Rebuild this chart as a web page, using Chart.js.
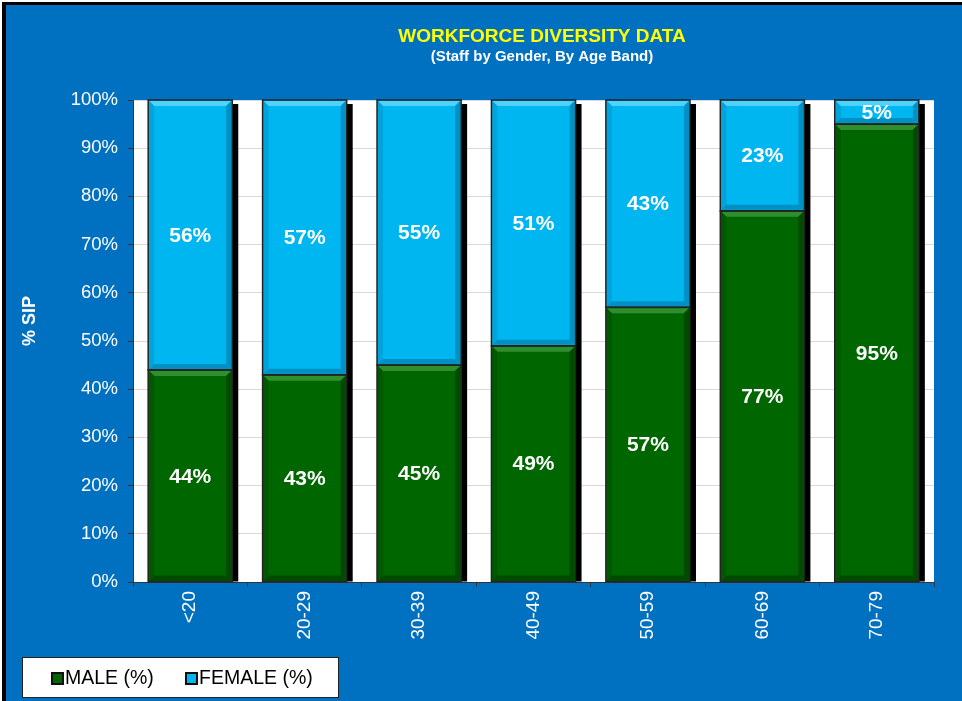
<!DOCTYPE html>
<html><head><meta charset="utf-8">
<script src="https://cdn.jsdelivr.net/npm/chart.js@4"></script>
<style>html,body{margin:0;padding:0;background:#fff}#wrap{width:962px;height:701px}</style>
</head><body><div id="wrap"><canvas id="c" width="962" height="701"></canvas></div>
<script>
const categories = ['<20','20-29','30-39','40-49','50-59','60-69','70-79'];
const maleValues = [44,43,45,49,57,77,95];
const femaleValues = [56,57,55,51,43,23,5];
const yTicks = [0,10,20,30,40,50,60,70,80,90,100];
const seriesNames = ['MALE (%)','FEMALE (%)'];
const yTitle = '% SIP';
const chartTitle = 'WORKFORCE DIVERSITY DATA';
const chartSubtitle = '(Staff by Gender, By Age Band)';

const FONT = 'Arial, "Liberation Sans", sans-serif';
const COL = {
  male:{fill:'#006600', light:'#2f8f2f', dark:'#004a00'},
  female:{fill:'#00B6F0', light:'#4fd2ff', dark:'#0090c4'}
};

const bgPlugin = {
  id:'bg',
  beforeDraw(chart){
    const c = chart.ctx, a = chart.chartArea;
    c.save();
    c.fillStyle='#ffffff'; c.fillRect(0,0,chart.width,chart.height);
    c.fillStyle='#000000'; c.fillRect(2,2,chart.width,chart.height);
    c.fillStyle='#0070C0'; c.fillRect(6,5,chart.width,chart.height);
    c.fillStyle='#ffffff'; c.fillRect(a.left,a.top,a.right-a.left,a.bottom-a.top);
    c.textAlign='center'; c.textBaseline='middle';
    c.fillStyle='#FFFF00'; c.font='bold 19px '+FONT;
    c.fillText(chartTitle, 542, 37);
    c.fillStyle='#ffffff'; c.font='bold 15px '+FONT;
    c.fillText(chartSubtitle, 542, 57);
    c.restore();
  },
  beforeDatasetsDraw(chart){
    const c = chart.ctx;
    c.save(); c.fillStyle='#000';
    const m0 = chart.getDatasetMeta(0), m1 = chart.getDatasetMeta(1);
    m0.data.forEach((b,i)=>{
      const t = m1.data[i];
      const right = b.x + b.width/2;
      const top = Math.min(t.y, b.y);
      c.fillRect(right, top+4, 6, b.base - top - 4);
    });
    c.restore();
  },
  afterDatasetsDraw(chart){
    const c = chart.ctx;
    const keys = ['male','female'];
    chart.data.datasets.forEach((ds,di)=>{
      const meta = chart.getDatasetMeta(di);
      const col = COL[keys[di]];
      meta.data.forEach((b,i)=>{
        const l = b.x - b.width/2, r = b.x + b.width/2;
        const t = Math.min(b.y,b.base), bt = Math.max(b.y,b.base);
        const bv = Math.min(6,(bt-t)/3);
        c.save();
        c.fillStyle = col.light;
        c.beginPath(); c.moveTo(l+1,t+1); c.lineTo(r-1,t+1); c.lineTo(r-bv,t+bv); c.lineTo(l+bv,t+bv); c.closePath(); c.fill();
        c.fillStyle = col.dark;
        c.beginPath(); c.moveTo(r-1,t+1); c.lineTo(r-1,bt-1); c.lineTo(r-bv,bt-bv); c.lineTo(r-bv,t+bv); c.closePath(); c.fill();
        c.beginPath(); c.moveTo(l+1,bt-1); c.lineTo(r-1,bt-1); c.lineTo(r-bv,bt-bv); c.lineTo(l+bv,bt-bv); c.closePath(); c.fill();
        c.globalAlpha=0.5;
        c.beginPath(); c.moveTo(l+1,t+1); c.lineTo(l+1,bt-1); c.lineTo(l+bv,bt-bv); c.lineTo(l+bv,t+bv); c.closePath(); c.fill();
        c.globalAlpha=1;
        c.strokeStyle='#222'; c.lineWidth=1.5;
        c.strokeRect(l,t,r-l,bt-t);
        c.fillStyle='#ffffff';
        c.font='bold 21px '+FONT;
        c.textAlign='center'; c.textBaseline='middle';
        c.fillText(ds.data[i]+'%', b.x, (t+bt)/2+1);
        c.restore();
      });
    });
  },
  afterDraw(chart){
    const c = chart.ctx;
    c.save();
    c.translate(30,321); c.rotate(-Math.PI/2);
    c.fillStyle='#ffffff'; c.font='bold 18px '+FONT;
    c.textAlign='center'; c.textBaseline='middle';
    c.fillText(yTitle,0,0);
    c.restore();
    c.save();
    c.fillStyle='#ffffff'; c.fillRect(22,657,317,41);
    c.strokeStyle='#222'; c.lineWidth=1; c.strokeRect(22.5,657.5,316,40);
    const items = [{x:51,col:COL.male},{x:185,col:COL.female}];
    c.font='19.5px '+FONT; c.textBaseline='middle'; c.textAlign='left';
    items.forEach((it,i)=>{
      c.fillStyle='#111'; c.fillRect(it.x,672,13,13);
      c.fillStyle=it.col.fill; c.fillRect(it.x+2,674,9,9);
      c.fillStyle='#000'; c.fillText(seriesNames[i], it.x+14, 679);
    });
    c.restore();
  }
};

new Chart(document.getElementById('c'),{
  type:'bar',
  data:{
    labels:categories,
    datasets:[
      {label:seriesNames[0], data:maleValues, backgroundColor:COL.male.fill, borderWidth:0},
      {label:seriesNames[1], data:femaleValues, backgroundColor:COL.female.fill, borderWidth:0}
    ]
  },
  options:{
    responsive:false, animation:false,
    layout:{padding:{left:5,right:28,top:100,bottom:0}},
    datasets:{bar:{categoryPercentage:1, barPercentage:0.735}},
    plugins:{
      legend:{display:false},
      tooltip:{enabled:false},
      title:{display:false},
      subtitle:{display:false}
    },
    scales:{
      x:{stacked:true, offset:true,
        grid:{display:true, drawOnChartArea:false, drawTicks:true, tickLength:5, color:'#333', offset:true},
        border:{display:true, color:'#333', width:1},
        ticks:{color:'#ffffff', font:{family:FONT, size:19}, minRotation:90, maxRotation:90, padding:4, autoSkip:false},
        afterFit(s){ s.height = 119; }
      },
      y:{stacked:true, min:0, max:100,
        afterBuildTicks(s){ s.ticks = yTicks.map(v=>({value:v})); },
        grid:{color:'#D9D9D9', lineWidth:1, tickLength:5, drawTicks:true, tickColor:'#333'},
        border:{display:true, color:'#333', width:1},
        ticks:{color:'#ffffff', font:{family:FONT, size:18.5}, padding:10, callback:v=>v+'%'},
        afterFit(s){ s.width = 128; }
      }
    }
  },
  plugins:[bgPlugin]
});
</script></body></html>
